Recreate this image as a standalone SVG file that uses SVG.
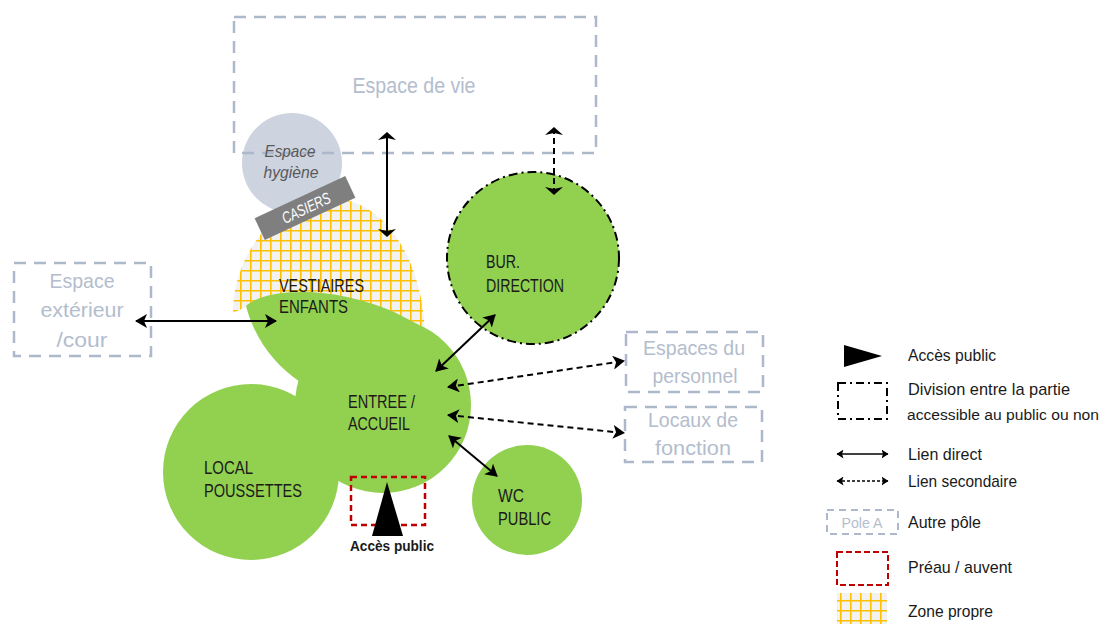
<svg xmlns="http://www.w3.org/2000/svg" width="1108" height="624" viewBox="0 0 1108 624">
<style>
.lbl{font-family:"Liberation Sans",Arial,sans-serif;fill:#1a1a1a;font-size:18px}
.pole{fill:none;stroke:#adb9ca;stroke-width:2.5;stroke-dasharray:12 8}
.ptxt{font-family:"Liberation Sans",Arial,sans-serif;fill:#b3bdcd;font-size:21px;text-anchor:middle}
.green{fill:#92d050}
.link{stroke:#000;stroke-width:2;fill:none}
.dash{stroke-dasharray:6 4}
.leg{font-family:"Liberation Sans",Arial,sans-serif;fill:#1a1a1a;font-size:17px}
</style>
<defs>
<pattern id="hatch" width="10" height="10" patternUnits="userSpaceOnUse">
<rect width="10" height="10" fill="#f2f2f2"/>
<path d="M0.8 0V10M0 0.8H10" stroke="#ffc000" stroke-width="1.6"/>
</pattern>
<marker id="ah" markerUnits="userSpaceOnUse" markerWidth="13" markerHeight="14" viewBox="0 0 13 14" refX="11" refY="7" orient="auto-start-reverse"><path d="M0 0L12 7L0 14L3 7Z"/></marker>
<marker id="af" markerUnits="userSpaceOnUse" markerWidth="9" markerHeight="18" viewBox="0 0 9 18" refX="7" refY="9" orient="auto-start-reverse"><path d="M0 0L8 9L0 18L2 9Z"/></marker>
<marker id="as" markerUnits="userSpaceOnUse" markerWidth="8" markerHeight="9" viewBox="0 0 8 9" refX="6.5" refY="4.5" orient="auto-start-reverse"><path d="M0 0L7 4.5L0 9L1.5 4.5Z"/></marker>
</defs>
<rect width="1108" height="624" fill="#fff"/>

<g id="hygiene">
<circle cx="292" cy="163" r="50" fill="#cdd3df"/>
</g>

<g id="espace-de-vie">
<rect x="234" y="17" width="362" height="136" class="pole"/>
<text x="414" y="93" class="ptxt" style="font-size:22px" textLength="123" lengthAdjust="spacingAndGlyphs">Espace de vie</text>
</g>

<g id="hygiene-label" font-family="Liberation Sans, Arial, sans-serif" font-style="italic" font-size="17" fill="#595959" text-anchor="middle">
<text x="290" y="157" textLength="51" lengthAdjust="spacingAndGlyphs">Espace</text>
<text x="291" y="178" textLength="55" lengthAdjust="spacingAndGlyphs">hygiène</text>
</g>

<g id="vestiaires">
<path d="M233 313C233 255 275 200 330 198C385 198 425 262 425 340L380 400L300 360L250 305Z" fill="url(#hatch)"/>
<path class="green" d="M246 306C262 290 330 282 400 315C420 325 435 335 445 350L420 420L300 382C275 365 255 340 246 306Z"/>
<text class="lbl" x="279" y="292" textLength="85" lengthAdjust="spacingAndGlyphs">VESTIAIRES</text>
<text class="lbl" x="279" y="313" textLength="69" lengthAdjust="spacingAndGlyphs">ENFANTS</text>
</g>

<g id="casiers" transform="rotate(-25 305 208)">
<rect x="255" y="196" width="100" height="24" fill="#7f7f7f"/>
<text x="306" y="214" font-family="Liberation Sans, Arial, sans-serif" font-style="italic" font-size="16" fill="#fff" text-anchor="middle" textLength="52" lengthAdjust="spacingAndGlyphs">CASIERS</text>
</g>

<g id="entree">
<circle class="green" cx="383" cy="405" r="88"/>
<text class="lbl" x="348" y="408" textLength="67" lengthAdjust="spacingAndGlyphs">ENTREE /</text>
<text class="lbl" x="348" y="430" textLength="62" lengthAdjust="spacingAndGlyphs">ACCUEIL</text>
</g>

<g id="local-poussettes">
<circle class="green" cx="251" cy="472" r="88"/>
<text class="lbl" x="204" y="474" textLength="49" lengthAdjust="spacingAndGlyphs">LOCAL</text>
<text class="lbl" x="204" y="497" textLength="98" lengthAdjust="spacingAndGlyphs">POUSSETTES</text>
</g>

<g id="bur-direction">
<circle class="green" cx="533" cy="258" r="86" stroke="#000" stroke-width="2" stroke-dasharray="9 4 2 4"/>
<text class="lbl" x="486" y="268" textLength="34" lengthAdjust="spacingAndGlyphs">BUR.</text>
<text class="lbl" x="486" y="292" textLength="78" lengthAdjust="spacingAndGlyphs">DIRECTION</text>
</g>

<g id="wc-public">
<circle class="green" cx="527" cy="500" r="55"/>
<text class="lbl" x="498" y="502" textLength="26" lengthAdjust="spacingAndGlyphs">WC</text>
<text class="lbl" x="498" y="525" textLength="53" lengthAdjust="spacingAndGlyphs">PUBLIC</text>
</g>

<g id="acces-public">
<rect x="351" y="477" width="74" height="48" fill="none" stroke="#c00000" stroke-width="2.5" stroke-dasharray="6 4"/>
<path d="M387 482L403 536L372 536Z" fill="#000"/>
<text x="392" y="551" font-family="Liberation Sans, Arial, sans-serif" font-weight="bold" font-size="14" fill="#1a1a1a" text-anchor="middle" textLength="84" lengthAdjust="spacingAndGlyphs">Accès public</text>
</g>

<g id="espace-exterieur">
<rect x="14" y="263" width="137" height="93" class="pole"/>
<text class="ptxt" x="82" y="288" textLength="65" lengthAdjust="spacingAndGlyphs">Espace</text>
<text class="ptxt" x="82" y="317" textLength="83" lengthAdjust="spacingAndGlyphs">extérieur</text>
<text class="ptxt" x="82" y="347" textLength="51" lengthAdjust="spacingAndGlyphs">/cour</text>
</g>

<g id="espaces-personnel">
<rect x="626" y="332" width="137" height="60" class="pole"/>
<text class="ptxt" x="694" y="355" textLength="102" lengthAdjust="spacingAndGlyphs">Espaces du</text>
<text class="ptxt" x="695" y="383" textLength="85" lengthAdjust="spacingAndGlyphs">personnel</text>
</g>

<g id="locaux-fonction">
<rect x="625" y="407" width="137" height="55" class="pole"/>
<text class="ptxt" x="693" y="427" textLength="90" lengthAdjust="spacingAndGlyphs">Locaux de</text>
<text class="ptxt" x="693" y="455" textLength="76" lengthAdjust="spacingAndGlyphs">fonction</text>
</g>

<g id="connectors">
<line class="link" x1="387" y1="133" x2="387" y2="236" marker-start="url(#af)" marker-end="url(#af)"/>
<line class="link dash" x1="554" y1="128" x2="554" y2="194" marker-start="url(#af)" marker-end="url(#af)"/>
<line class="link" x1="136" y1="321" x2="276" y2="321" marker-start="url(#ah)" marker-end="url(#ah)"/>
<line class="link" x1="436" y1="371" x2="495" y2="315" marker-start="url(#ah)" marker-end="url(#ah)"/>
<line class="link dash" x1="448" y1="387" x2="624" y2="361" marker-start="url(#ah)" marker-end="url(#ah)"/>
<line class="link dash" x1="448" y1="415" x2="624" y2="433" marker-start="url(#ah)" marker-end="url(#ah)"/>
<line class="link" x1="449" y1="436" x2="497" y2="476" marker-start="url(#ah)" marker-end="url(#ah)"/>
</g>

<g id="legend">
<path d="M844 345L882 356L844 367Z" fill="#000"/>
<text class="leg" x="908" y="361" textLength="88" lengthAdjust="spacingAndGlyphs">Accès public</text>
<rect x="838" y="383" width="49" height="36" fill="none" stroke="#000" stroke-width="2" stroke-dasharray="8 4 2 4"/>
<text class="leg" x="908" y="395" textLength="162" lengthAdjust="spacingAndGlyphs">Division entre la partie</text>
<text class="leg" x="907" y="420" style="font-size:15.5px" textLength="192" lengthAdjust="spacingAndGlyphs">accessible au public ou non</text>
<line x1="837" y1="454" x2="888" y2="454" stroke="#000" stroke-width="1.6" marker-start="url(#as)" marker-end="url(#as)"/>
<text class="leg" x="908" y="460" textLength="74" lengthAdjust="spacingAndGlyphs">Lien direct</text>
<line x1="837" y1="481" x2="888" y2="481" stroke="#000" stroke-width="1.6" stroke-dasharray="3 2" marker-start="url(#as)" marker-end="url(#as)"/>
<text class="leg" x="908" y="487" textLength="109" lengthAdjust="spacingAndGlyphs">Lien secondaire</text>
<rect x="827" y="510" width="71" height="24" fill="none" stroke="#adb9ca" stroke-width="2" stroke-dasharray="7 5"/>
<text x="862" y="528" font-family="Liberation Sans, Arial, sans-serif" font-size="15" fill="#b3bdcd" text-anchor="middle" textLength="41" lengthAdjust="spacingAndGlyphs">Pole A</text>
<text class="leg" x="908" y="528" textLength="73" lengthAdjust="spacingAndGlyphs">Autre pôle</text>
<rect x="837" y="552" width="51" height="33" fill="none" stroke="#c00000" stroke-width="2" stroke-dasharray="6 3"/>
<text class="leg" x="908" y="573" textLength="104" lengthAdjust="spacingAndGlyphs">Préau / auvent</text>
<rect x="837" y="593" width="50" height="31" fill="url(#hatch)"/>
<text class="leg" x="908" y="617" textLength="85" lengthAdjust="spacingAndGlyphs">Zone propre</text>
</g>
</svg>
